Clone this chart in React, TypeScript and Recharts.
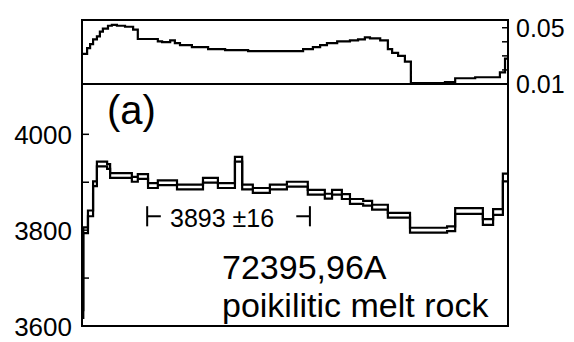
import { LineChart, Line, XAxis, YAxis, ReferenceArea, ReferenceLine } from "recharts";

// cumulative 39Ar fraction at the start of each heating step (K/Ca panel)
const kcaStart = [
  0.0, 0.012, 0.019, 0.026, 0.035, 0.042, 0.049, 0.061, 0.07, 0.082, 0.101, 0.12, 0.131,
  0.178, 0.188, 0.207, 0.218, 0.23, 0.258, 0.296, 0.336, 0.39, 0.519, 0.542, 0.559, 0.575,
  0.599, 0.629, 0.648, 0.664, 0.676, 0.7, 0.718, 0.728, 0.742, 0.758, 0.772, 0.852, 0.876,
  0.923, 0.981, 0.993,
];
const kcaValues = [
  0.0314, 0.0355, 0.0383, 0.0417, 0.0438, 0.0472, 0.0493, 0.0514, 0.0521, 0.0514, 0.0507,
  0.0486, 0.042, 0.0403, 0.0397, 0.041, 0.039, 0.0376, 0.0362, 0.0348, 0.0341, 0.0334,
  0.0348, 0.0362, 0.0376, 0.039, 0.0403, 0.041, 0.0417, 0.0431, 0.0424, 0.041, 0.0348,
  0.0321, 0.03, 0.0259, 0.0107, 0.0114, 0.0141, 0.0148, 0.0183, 0.028,
];

// cumulative 39Ar fraction at the start of each step (age panel)
const ageStart = [
  0.0, 0.003, 0.014, 0.026, 0.035, 0.059, 0.066, 0.117, 0.131, 0.155, 0.178, 0.223, 0.284,
  0.319, 0.359, 0.376, 0.401, 0.441, 0.481, 0.53, 0.57, 0.587, 0.61, 0.629, 0.66, 0.681,
  0.718, 0.77, 0.857, 0.876, 0.941, 0.965, 0.988,
];
const ageValues = [
  3625, 3800, 3835, 3897, 3938, 3933, 3914, 3906, 3912, 3893, 3899, 3890, 3904, 3893, 3948,
  3890, 3883, 3890, 3896, 3879, 3871, 3879, 3870, 3860, 3856, 3848, 3831, 3800, 3803, 3840,
  3817, 3838, 3910,
];
const ageErrors = [
  8, 6, 6, 5, 5, 5, 5, 5, 5, 5, 5, 5, 5, 5, 5, 5, 5, 5, 5, 5, 5, 5, 5, 5, 5, 5, 5, 5, 5, 6,
  6, 6, 8,
];

const ageTicks = [3600, 3700, 3800, 3900, 4000];
const ageLabels = [3600, 3800, 4000];
const kcaTicks = [0.01, 0.02, 0.03, 0.04, 0.05];
const kcaLabels = [0.01, 0.05];
const releaseTicks = [0.1, 0.2, 0.3, 0.4, 0.5, 0.6, 0.7, 0.8, 0.9];

const plateauFrom = 0.153;
const plateauTo = 0.535;
const plateauAge = 3893;
const plateauErr = 16;

const AGE_DOMAIN = [3600, 4105];
const KCA_DOMAIN = [0.01, 0.0555];
const FONT = "'Liberation Sans', Arial, Helvetica, sans-serif";

const kcaData = kcaStart
  .map((f, i) => ({ f, kca: kcaValues[i] }))
  .concat({ f: 1, kca: kcaValues[kcaValues.length - 1] });

const ageData = ageStart
  .map((f, i) => ({ f, hi: ageValues[i] + ageErrors[i], lo: ageValues[i] - ageErrors[i] }))
  .concat({
    f: 1,
    hi: ageValues[ageValues.length - 1] + ageErrors[ageErrors.length - 1],
    lo: ageValues[ageValues.length - 1] - ageErrors[ageErrors.length - 1],
  });

const AgeTick = (props: any) => {
  const { x, y, payload } = props;
  return (
    <g>
      <line x1={x + 10} x2={x + 17} y1={y} y2={y} stroke="#000" strokeWidth={1.5} />
      {ageLabels.includes(payload.value) && (
        <text x={x} y={y} dy="0.38em" textAnchor="end" fontSize={26} fontFamily={FONT} fill="#000">
          {payload.value}
        </text>
      )}
    </g>
  );
};

const KcaTick = (props: any) => {
  const { x, y, payload } = props;
  return (
    <g>
      <line x1={x - 8} x2={x - 14} y1={y} y2={y} stroke="#000" strokeWidth={1.5} />
      {kcaLabels.includes(payload.value) && (
        <text x={x} y={y} dy="0.36em" textAnchor="start" fontSize={25} fontFamily={FONT} fill="#000">
          {payload.value.toFixed(2)}
        </text>
      )}
    </g>
  );
};

const ReleaseTick = (props: any) => {
  const { x, y } = props;
  return <line x1={x} x2={x} y1={y} y2={y - 6} stroke="#000" strokeWidth={1.5} />;
};

export default function App() {
  const bracketY = 3829;
  const cap = 0.032;
  return (
    <div style={{ position: "fixed", left: 0, top: 0, width: 574, height: 342, background: "#fff" }}>
      <div style={{ position: "absolute", left: 0, top: 0 }}>
        <LineChart width={574} height={110} data={kcaData} margin={{ top: 20, right: 0, bottom: 26, left: 82 }}>
          <XAxis dataKey="f" type="number" domain={[0, 1]} hide />
          <YAxis
            orientation="right"
            width={66}
            domain={KCA_DOMAIN}
            ticks={kcaTicks}
            interval={0}
            tickSize={0}
            tickMargin={8}
            axisLine={false}
            tickLine={false}
            tick={<KcaTick />}
            allowDataOverflow
          />
          <ReferenceArea x1={0} x2={1} y1={KCA_DOMAIN[0]} y2={KCA_DOMAIN[1]} fill="none" stroke="#000" strokeWidth={2} />
          <Line dataKey="kca" type="stepAfter" stroke="#000" strokeWidth={2.2} dot={false} isAnimationActive={false} />
        </LineChart>
      </div>
      <div style={{ position: "absolute", left: 0, top: 84 }}>
        <LineChart width={574} height={258} data={ageData} margin={{ top: 0, right: 66, bottom: 16, left: 0 }}>
          <XAxis
            dataKey="f"
            type="number"
            domain={[0, 1]}
            ticks={releaseTicks}
            interval={0}
            height={0}
            tickSize={0}
            tickMargin={0}
            axisLine={false}
            tickLine={false}
            tick={<ReleaseTick />}
          />
          <YAxis
            width={82}
            domain={AGE_DOMAIN}
            ticks={ageTicks}
            interval={0}
            tickSize={0}
            tickMargin={10}
            axisLine={false}
            tickLine={false}
            tick={<AgeTick />}
            allowDataOverflow
          />
          <ReferenceArea x1={0} x2={1} y1={AGE_DOMAIN[0]} y2={AGE_DOMAIN[1]} fill="none" stroke="#000" strokeWidth={2} />
          <ReferenceLine segment={[{ x: plateauFrom, y: bracketY - 21 }, { x: plateauFrom, y: bracketY + 21 }]} stroke="#000" strokeWidth={2} />
          <ReferenceLine segment={[{ x: plateauFrom, y: bracketY }, { x: plateauFrom + cap, y: bracketY }]} stroke="#000" strokeWidth={2} />
          <ReferenceLine segment={[{ x: plateauTo, y: bracketY - 21 }, { x: plateauTo, y: bracketY + 21 }]} stroke="#000" strokeWidth={2} />
          <ReferenceLine segment={[{ x: plateauTo - cap, y: bracketY }, { x: plateauTo, y: bracketY }]} stroke="#000" strokeWidth={2} />
          <Line dataKey="hi" type="stepAfter" stroke="#000" strokeWidth={2.2} dot={false} isAnimationActive={false} />
          <Line dataKey="lo" type="stepAfter" stroke="#000" strokeWidth={2.2} dot={false} isAnimationActive={false} />
        </LineChart>
      </div>
      <svg width={574} height={342} style={{ position: "absolute", left: 0, top: 0, pointerEvents: "none" }}>
        <g fontFamily={FONT} fill="#000">
          <text x={107} y={124} fontSize={40}>(a)</text>
          <text x={170} y={227} fontSize={25}>{`${plateauAge} ±${plateauErr}`}</text>
          <text x={222} y={279} fontSize={34}>72395,96A</text>
          <text x={222} y={317} fontSize={34}>poikilitic melt rock</text>
        </g>
      </svg>
    </div>
  );
}
